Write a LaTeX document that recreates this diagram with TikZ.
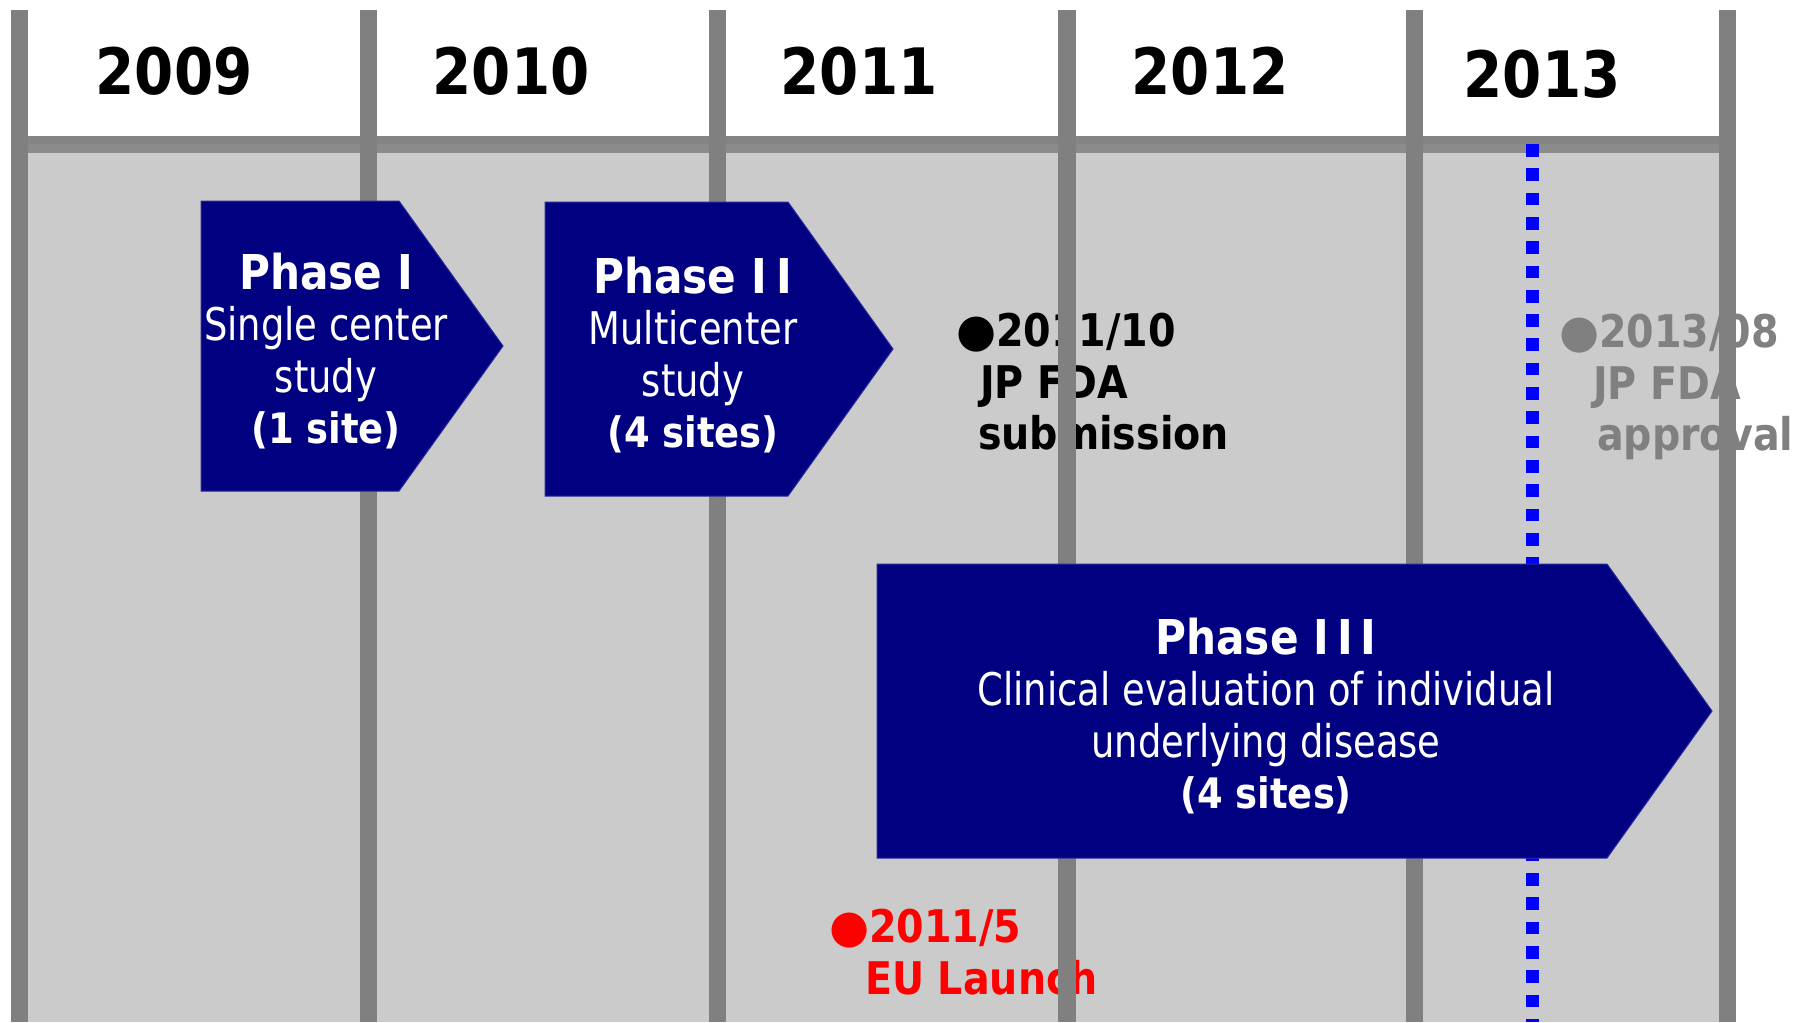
\documentclass[tikz,border=0pt]{standalone}
\usepackage{fontspec}
\setmainfont{DejaVu Sans}
\newfontfamily\tlbold{DejaVu Sans Bold}[FakeStretch=0.88]
\newfontfamily\tlreg{DejaVu Sans}[FakeStretch=0.82]
\newfontfamily\tldot{DejaVu Sans}

\definecolor{bodyGray}{HTML}{CBCBCB}
\definecolor{barGray}{HTML}{808080}
\definecolor{hbarTop}{HTML}{848484}
\definecolor{hbarLow}{HTML}{8B8B8B}
\definecolor{navy}{HTML}{000080}
\definecolor{navyEdge}{HTML}{2A2A9A}
\definecolor{markBlue}{HTML}{0000FF}
\definecolor{markGray}{HTML}{808080}
\definecolor{markRed}{HTML}{FF0000}

% text styles used inside the phase arrows
\newcommand\phTitle{\tlbold\fontsize{24}{25.8}\selectfont}
\newcommand\phBody{\tlreg\fontsize{22.5}{25.8}\selectfont}
\newcommand\phSites{\tlbold\fontsize{21}{25.8}\selectfont}
\newcommand\msFont{\tlbold\fontsize{22.5}{25.8}\selectfont}
\newcommand\msDot{{\tldot\fontsize{23}{25.8}\selectfont ●}}

\begin{document}
\begin{tikzpicture}[x=0.5pt,y=-0.5pt,
  every node/.style={inner sep=0pt,outer sep=0pt},
  vbar/.style={fill=barGray},
  phasebox/.style={fill=navy,draw=navyEdge,line width=0.5pt},
  yearlbl/.style={font=\tlbold\fontsize{32}{38}\selectfont,text=black},
  phasetxt/.style={align=center,text=white,font=\phBody},
  milestone/.style={align=left,anchor=west,font=\msFont},
  cutline/.style={draw=markBlue,line width=6.25pt,dash pattern=on 6.35pt off 5.8pt}
]
\useasboundingbox (0,0) rectangle (1802,1022);
\fill[white] (0,0) rectangle (1802,1022);

% timeline body
\fill[bodyGray] (11,153) rectangle (1727,1022);

% milestones (the column bars pass over them)
\node[milestone,text=black] (jpsub) at (956,382)
  {\msDot\msFont 2011/10\\\msFont\hspace*{12pt}JP FDA\\\msFont\hspace*{11pt}submission};
\node[milestone,text=markGray] (jpapp) at (1559,387)
  {\msDot\msFont 2013/08\\\msFont\hspace*{17pt}JP FDA\\\msFont\hspace*{19pt}approval};
\node[milestone,text=markRed] (eulaunch) at (829,952)
  {\msDot\msFont 2011/5\\\msFont\hspace*{18pt}EU Launch};

% header rule
\fill[hbarTop] (11,136) rectangle (1736,144);
\fill[hbarLow] (11,144) rectangle (1736,153);

% column bars
\foreach \xl/\w in {11/17,360/17,709/17,1058/18,1406/17,1719/17}
  \fill[vbar] (\xl,10) rectangle ++(\w,1012);

% year labels
\node[yearlbl] (y2009) at (174,71) {2009};
\node[yearlbl] (y2010) at (511,71) {2010};
\node[yearlbl] (y2011) at (859,71) {2011};
\node[yearlbl] (y2012) at (1210,71) {2012};
\node[yearlbl] (y2013) at (1542,74) {2013};

% approval date marker
\coordinate (cutTop) at (1532.5,144);
\coordinate (cutBot) at (1532.5,1022);
\draw[cutline] (cutTop) -- (cutBot);

% phase arrows
\path[phasebox] (201,201) -- (399,201) -- (503,346) -- (399,491) -- (201,491) -- cycle;
\node[phasetxt] (ph1) at (326,351)
  {\phTitle Phase I\\\phBody Single center\\\phBody study\\\phSites(1 site)};

\path[phasebox] (545,202) -- (788,202) -- (893,349) -- (788,496) -- (545,496) -- cycle;
\node[phasetxt] (ph2) at (693,355)
  {\phTitle Phase I\kern5pt I\\\phBody Multicenter\\\phBody study\\\phSites(4 sites)};

\path[phasebox] (877,564) -- (1607,564) -- (1712,711) -- (1607,858) -- (877,858) -- cycle;
\node[phasetxt] (ph3) at (1266,716)
  {\phTitle Phase I\kern4pt I\kern4pt I\\\phBody Clinical evaluation of individual\\\phBody underlying disease\\\phSites(4 sites)};
\end{tikzpicture}
\end{document}
